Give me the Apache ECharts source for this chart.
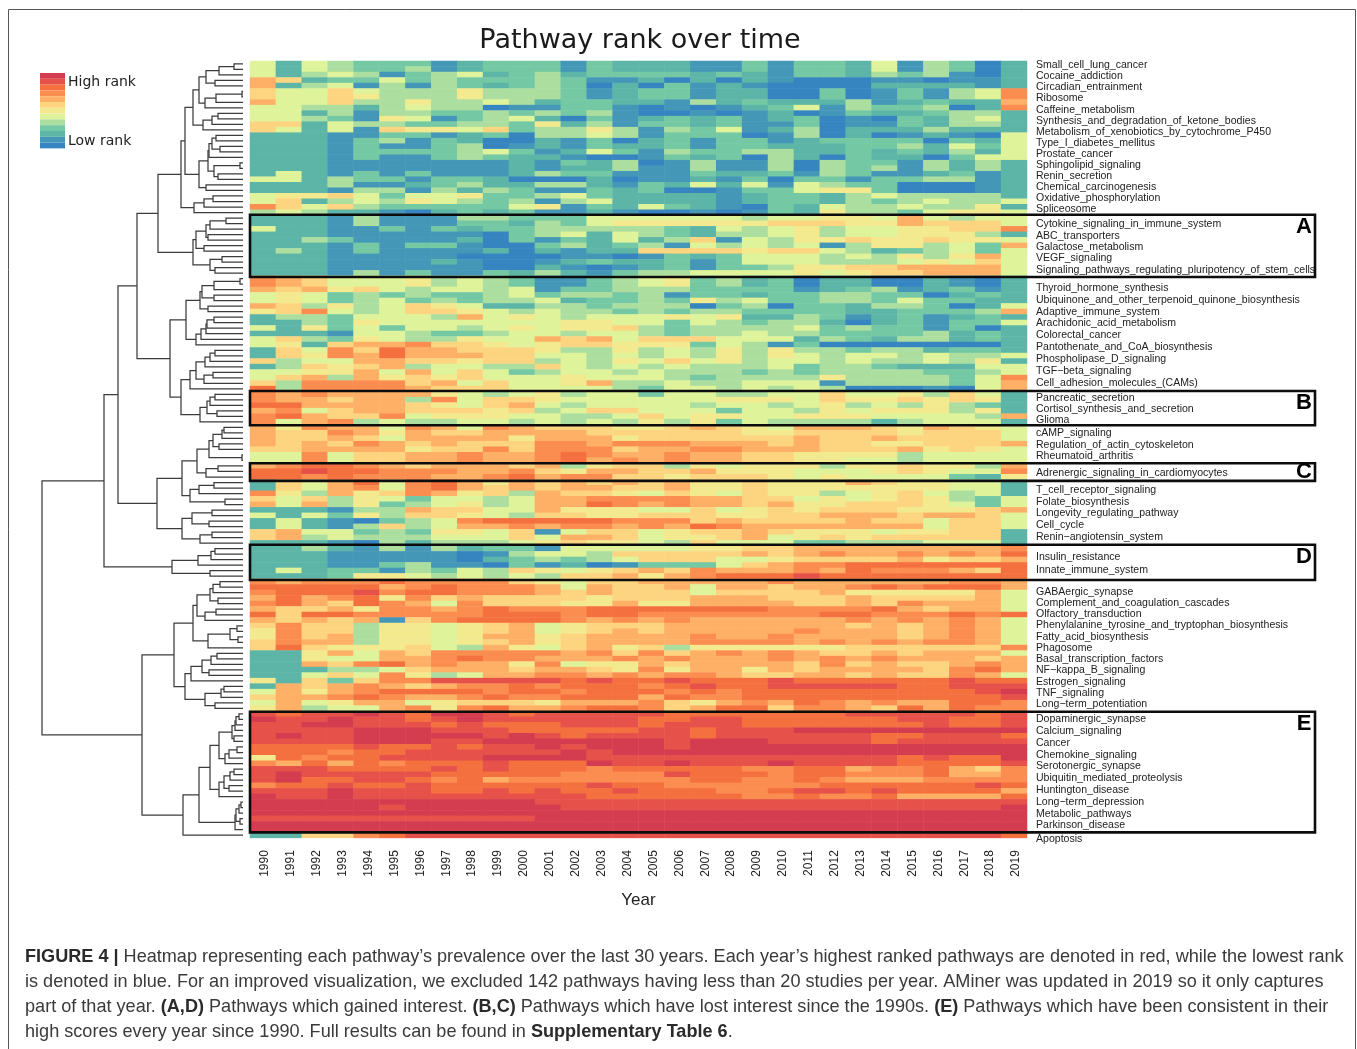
<!DOCTYPE html>
<html><head><meta charset="utf-8">
<style>html,body{margin:0;padding:0;background:#fff}#c{width:1357px;height:1049px}</style>
<script src="https://cdn.jsdelivr.net/npm/echarts@6/dist/echarts.min.js"></script>
</head><body><div id="c"></div>
<script>
const years=['1990','1991','1992','1993','1994','1995','1996','1997','1998','1999','2000','2001','2002','2003','2004','2005','2006','2007','2008','2009','2010','2011','2012','2013','2014','2015','2016','2017','2018','2019'];
const pathwayLabels=['Small_cell_lung_cancer','Cocaine_addiction','Circadian_entrainment','Ribosome','Caffeine_metabolism','Synthesis_and_degradation_of_ketone_bodies','Metabolism_of_xenobiotics_by_cytochrome_P450','Type_I_diabetes_mellitus','Prostate_cancer','Sphingolipid_signaling','Renin_secretion','Chemical_carcinogenesis','Oxidative_phosphorylation','Spliceosome','Cytokine_signaling_in_immune_system','ABC_transporters','Galactose_metabolism','VEGF_signaling','Signaling_pathways_regulating_pluripotency_of_stem_cells','Thyroid_hormone_synthesis','Ubiquinone_and_other_terpenoid_quinone_biosynthesis','Adaptive_immune_system','Arachidonic_acid_metabolism','Colorectal_cancer','Pantothenate_and_CoA_biosynthesis','Phospholipase_D_signaling','TGF\u2212beta_signaling','Cell_adhesion_molecules_(CAMs)','Pancreatic_secretion','Cortisol_synthesis_and_secretion','Glioma','cAMP_signaling','Regulation_of_actin_cytoskeleton','Rheumatoid_arthritis','Adrenergic_signaling_in_cardiomyocytes','T_cell_receptor_signaling','Folate_biosynthesis','Longevity_regulating_pathway','Cell_cycle','Renin\u2212angiotensin_system','Insulin_resistance','Innate_immune_system','GABAergic_synapse','Complement_and_coagulation_cascades','Olfactory_transduction','Phenylalanine_tyrosine_and_tryptophan_biosynthesis','Fatty_acid_biosynthesis','Phagosome','Basal_transcription_factors','NF\u2212kappa_B_signaling','Estrogen_signaling','TNF_signaling','Long\u2212term_potentiation','Dopaminergic_synapse','Calcium_signaling','Cancer','Chemokine_signaling','Serotonergic_synapse','Ubiquitin_mediated_proteolysis','Huntington_disease','Long\u2212term_depression','Metabolic_pathways','Parkinson_disease','Apoptosis'];
const labelRows=[0.6,2.6,4.6,6.6,8.6,10.6,12.6,14.6,16.6,18.6,20.6,22.6,24.6,26.6,29.3,31.5,33.5,35.6,37.7,41.0,43.1,45.3,47.4,49.6,51.7,53.8,56.0,58.2,61.0,63.0,65.0,67.3,69.4,71.4,74.5,77.7,79.8,81.9,84.0,86.1,89.8,92.2,96.2,98.2,100.2,102.2,104.3,106.3,108.3,110.4,112.5,114.5,116.5,119.3,121.4,123.6,125.7,127.8,130.0,132.1,134.2,136.4,138.5,141];
const levelColors=['#3684c0','#4597b8','#5cb5a7','#74c8a4','#acdea0','#dff39a','#f3e98e','#fdd580','#fdb066','#fb8d50','#f5703f','#e6524a','#d43d50'];
// one string per pathway row, one hex rank level per year (0 = low rank, c = high rank)
const rankRows=[
'52543 33123 33132 22113 13325 14302','52543 34123 33132 22113 13325 14302','52454 13452 34233 33232 13324 34102','87233 53433 34311 20202 10001 10112',
'82451 41432 34302 03121 00002 22212','75575 44464 44312 33122 00301 31459','75576 44464 44312 33122 00301 31459','85574 46445 42332 21423 22241 23228',
'55442 45440 11331 01012 35143 34029','55241 44334 34341 00101 20132 23442','55431 65134 52031 23231 23010 32452','77254 43344 36241 33231 13011 32442',
'75251 76657 34464 14351 24022 24222','22211 33123 04454 13330 14020 12105','22213 41320 02130 23133 12333 30325','22213 11340 12132 23133 22233 42535',
'22213 33345 31253 14334 42232 32425','22213 11343 22100 13230 42032 20355','22211 11111 21324 01411 40433 14242','22211 11111 21224 11411 40434 14242',
'25213 13111 24331 11322 31431 12312','55243 31332 00020 11213 03313 34412','22241 12342 24421 32525 15433 00012','22214 41424 31132 30013 35663 00012',
'56675 35563 34532 22212 33245 44442','57245 46543 41452 22212 33243 45445','97574 33333 56132 53210 32544 54462','45422 10232 31121 00101 32644 35665',
'22214 11144 33355 55554 55665 85455','22214 11133 24356 66666 77766 87775','52211 31323 34444 43254 56455 66779','22211 11110 34525 43244 56455 66642',
'22431 11120 31325 24715 46676 67665','22213 13310 03423 41545 45146 64538','24213 11112 02122 77776 77542 34535','22211 11100 00110 13235 55454 64685',
'22211 11210 01232 23135 55444 56575','22211 11110 02101 23133 46677 88885','22214 13113 24213 44555 56567 78885','98755 56454 31134 56342 30220 02102',
'98755 56454 31134 56342 30220 02102','87867 54554 51334 44333 31234 12312','56534 34334 53443 41332 33443 30232','56534 53434 45233 43645 33443 53322',
'87464 57652 24434 44034 03324 43025','67954 57765 45443 43443 33322 33348','24435 55485 65455 56562 24312 31232','22436 55555 55665 53543 44202 31335',
'52635 35545 65667 43444 45343 31302','22215 54334 55455 43445 44333 34232','57436 54465 58785 77755 52432 44232','56278 89776 56776 66354 13000 00002',
'27597 a8877 76446 45464 64434 42332','27698 a8887 75545 45464 65455 45445','74558 87767 74546 57564 55454 45462','24767 84554 47545 45444 53443 22255',
'55668 58575 34554 54443 43444 43345','57848 67675 55655 54344 44644 44359','74999 97857 55684 45445 55144 44358','a4999 98777 55554 35545 45400 01058',
'98988 88654 56455 35544 55755 64752','98878 84957 76555 55566 65766 76762','aa888 87657 85455 55455 45645 46432','89578 87776 74577 55535 54656 66462',
'9a877 95666 55445 75665 56665 55548','95894 54455 45454 64635 44442 45552','86988 59859 87776 67876 58887 68765','87798 68778 88877 77776 67777 67775',
'87787 58888 68886 77777 78778 77775','87879 87877 79989 99888 78776 67778','77888 86779 79997 88998 88777 86765','55957 78898 89a98 89887 76666 45555',
'55957 78898 89a89 89887 76655 45555','89aa9 87888 78467 74656 66466 76648','aabaa 99988 97688 77866 65556 76559','aa9a9 99889 a8997 76777 65655 55326',
'2758a 59a86 87878 78667 66687 66552','27589 59a87 87887 78667 66666 66552','96486 79867 48776 57657 66456 75452','75746 53554 58899 99887 75656 76435',
'85846 34564 588a9 89887 86677 76535','22214 48775 58666 55756 76777 66678','52536 47765 47766 77766 77888 78875','25210 3459a aaaa9 99787 77787 75775',
'25214 74588 98998 98a98 88888 85775','78553 43665 71577 56778 76665 66772','78454 44555 75887 56678 56767 77772','22210 42444 56766 54755 53344 45552',
'22421 41423 31555 55667 78888 88889','22211 11101 45547 77778 78988 9898a','22211 11102 34345 77755 67777 86778','22211 34110 31201 33357 899aa aaaaa',
'25233 14354 76567 87988 898a9 9987a','22236 65454 54778 689aa abaaa aaaaa','98999 a9999 76577 88888 98888 88998','aaaaa 89a99 98587 78588 7889a 9aaa8',
'9aaab 9aa99 98787 77577 77866 66685','8a89a 69787 77767 77888 77787 77785','9a87a 98597 77668 66888 87787 98885','87786 9989a 999aa aaaaa 9999a 87885',
'a7aa9 9999a aa9aa 99999 99aa9 99a9a','87878 179aa aa989 89888 88898 98985','79774 66567 85677 78888 88878 78985','69774 66567 85678 78888 89888 78985',
'69784 66568 86788 88988 98888 78985','79884 66567 86788 88999 98989 89985','7a766 67548 65786 74666 66677 77779','22685 87999 99897 97898 98778 78885',
'22655 889a9 98889 89888 98989 88878','22879 a8988 69566 87888 87978 77898','22244 57888 78876 96886 87888 879a8','22575 96458 89989 89987 78878 77985',
'62737 99bbb bbaba abaaa baaaa aabaa','28789 87899 a9aaa 9abaa bbbbb aabbb','58689 aaaa9 aa9aa a9a9a aaaaa aaabc','7889a 9889a 99aaa 8a99a aaaaa aaaab',
'58568 85677 76888 97689 8a989 88aa9','68455 8969a 889aa 978aa 79987 a8a99','babbc baccb abbbb baaaa aaabb bbbab','cbbcb babcb bbbbb aabba aaaaa bbaab',
'bbccb bbaba aabbb abbba aaaaa abaab','bbbbc ccbbb aaaaa bbabb bcccc ccccc','bcbbc ccccb cbabb bbabb bbbba abbba','bbbbc ccbbc ccccc cbccc bbbba bbbbb',
'aaaab aabab bcbcc cbccc ccccc ccccc','aaa9a abbbb bbcbc ccccc ccccc ccccc','6a9aa bbbbc cccbb bbbbb bbbbb abaac','98a8a 9aaab aaacb bcbbb cbbbb aaaab',
'bbbaa aabab aaa9a aaaa9 9aa89 9a879','bcbbb bbaaa aa999 9baaa 9aa99 9a889','bcaab ba9a8 99999 99aa9 9a988 89999','9aaba abaaa aaaba a9999 99aaa aaaba',
'bbbcb bbaab abaab aaa99 abbab aaaa8','cbbcb bbbbb bbbaa aaaa9 9a99a 8888a','ccccc ccccc cbbbb bbbbb bbbbb bbbbb','ccccc bcccc ccbbb bbbbb bbbbb bbbbc',
'ccccc ccccc ccccc ccccc ccccc ccccc','bbbbb bbbbb bcccc ccccc ccccc ccccc','ccccc ccccc ccccc ccccc ccccc ccccc','ccccc ccccc ccccc ccccc ccccc ccccc',
'22779 abbbb bbbbb bbbbb bbbbb bbbba'];
// dendrogram: [height, upper child, lower child]; 0 is a leaf (next heatmap row)
const dendrogram=[201,
 [139,
  [125,
   [106,
    [85,
     [62,
      [58,
       [50,
        [44,[37,[24,[9,0,0],0],[28,0,0]],[38,[27,[1,0,0],0],0]],
        [40,[31,[25,0,0],0],0]],
       [44,[35,[34,[31,[27,0,0],[23,0,0]],0],[29,[3,0,0],[25,0,0]]],[37,0,0]]],
      [49,[39,[30,0,0],0],0]],
     [50,[47,[37,[33,[17,0,0],0],[35,0,0]],[39,0,0]],[33,[21,0,0],[28,0,0]]]],
    [73,
     [57,
      [43,[41,[29,[3,0,0],0],[29,0,0]],[35,0,0]],
      [47,[42,[37,[36,[29,0,0],0],0],0],0]],
     [62,
      [53,[47,[38,[33,[28,0,0],0],0],[39,[30,0,0],0]],0],
      [43,[36,[33,[28,0,0],0],[26,0,0]],0]]]],
   [86,
    [61,
     [46,[34,[30,[21,[19,0,0],0],[24,0,0]],[1,0,0]],[37,[25,0,0],0]],
     [53,[44,[29,0,0],0],[18,0,0]]],
    [61,[51,[31,0,0],[34,0,0]],[43,[31,0,0],0]]]],
  [71,[45,[32,[28,0,0],0],0],[33,0,0]]],
 [101,
  [69,
   [50,
    [46,[33,[30,[23,0,0],0],[25,0,0]],[38,[27,0,0],0]],
    [35,[13,[6,0,0],[5,0,0]],0]],
   [58,
    [52,[41,[32,[26,0,0],0],[34,0,0]],0],
    [38,[22,[19,0,0],0],[28,0,0]]]],
  [60,
   [44,
    [33,
     [24,[11,[8,[7,[4,0,0],0],0],[9,0,0]],[18,[14,[6,0,0],0],0]],
     [24,[19,[13,[9,0,0],0],[14,0,0]],0]],
    [8,[7,[4,[2,0,0],0],[3,0,0]],0]],
   0]]];
const boxStarts=[27.9,59.9,73,87.8,118.1];
const boxEnds=[39.2,66.1,76.2,94.2,140];
const boxNames=['A','B','C','D','E'];
const captionLines=[
'{b|FIGURE 4 |} Heatmap representing each pathway\u2019s prevalence over the last 30 years. Each year\u2019s highest ranked pathways are denoted in red, while the lowest rank',
'is denoted in blue. For an improved visualization, we excluded 142 pathways having less than 20 studies per year. AMiner was updated in 2019 so it only captures',
'part of that year. {b|(A,D)} Pathways which gained interest. {b|(B,C)} Pathways which have lost interest since the 1990s. {b|(E)} Pathways which have been consistent in their',
'high scores every year since 1990. Full results can be found in {b|Supplementary Table 6}.'];

const nRows=rankRows.length;
const heat=[];
rankRows.forEach((row,r)=>{row.replace(/\s/g,'').split('').forEach((ch,c)=>heat.push([c,r,parseInt(ch,16)]));});

const segs=[];let leaf=0;
function walk(n){ // returns [height, rowPosition]
  if(n===0){const y=leaf+0.5;leaf++;return [0,y];}
  const a=walk(n[1]),b=walk(n[2]);
  segs.push([n[0],a[1],b[1],a[0],b[0]]);
  return [n[0],(a[1]+b[1])/2];
}
walk(dendrogram);

const gridTop=61,rowPx=5.51,gridH=nRows*rowPx;
const chart=echarts.init(document.getElementById('c'),null,{renderer:'canvas'});
const SANS='"Liberation Sans",Arial,sans-serif',DJ='"DejaVu Sans",sans-serif';
chart.setOption({
 animation:false,backgroundColor:'#fff',
 title:{text:'Pathway rank over time',left:635,top:22,textAlign:'center',textStyle:{fontFamily:DJ,fontSize:27,fontWeight:'normal',color:'#1a1a1a'}},
 grid:[{left:250,top:gridTop,width:777,height:gridH},{left:42,top:gridTop,width:201,height:gridH},{left:250,top:gridTop,width:1065,height:gridH},
  {left:252,top:gridTop+1.2,width:777,height:gridH}],
 xAxis:[
  {type:'category',gridIndex:0,data:years,show:false},
  {type:'value',gridIndex:1,min:0,max:201,inverse:true,show:false},
  {type:'value',gridIndex:2,min:0,max:1,show:false},
  {type:'category',gridIndex:3,data:years,position:'bottom',axisLine:{show:false},axisTick:{show:false},splitLine:{show:false},
   axisLabel:{rotate:90,interval:0,margin:11,fontFamily:SANS,fontSize:12,color:'#222'},
   name:'Year',nameLocation:'middle',nameGap:53,nameTextStyle:{fontFamily:SANS,fontSize:17,color:'#222',padding:[0,4,0,0]}}],
 yAxis:[
  {type:'category',gridIndex:0,inverse:true,data:rankRows.map((_,i)=>String(i)),show:false},
  {type:'value',gridIndex:3,position:'right',inverse:true,min:0,max:nRows,offset:-2,axisLine:{show:false},axisTick:{show:false},splitLine:{show:false},
   axisLabel:{customValues:labelRows,margin:9,fontFamily:SANS,fontSize:10.55,color:'#222',formatter:v=>pathwayLabels[labelRows.indexOf(v)]||''}},
  {type:'value',gridIndex:1,inverse:true,min:0,max:nRows,show:false},
  {type:'value',gridIndex:2,inverse:true,min:0,max:nRows,show:false}],
 visualMap:{type:'piecewise',seriesIndex:0,orient:'vertical',left:25,top:58,itemWidth:25,itemHeight:5.8,itemGap:0,itemSymbol:'rect',showLabel:false,selectedMode:false,hoverLink:false,
  pieces:levelColors.map((color,i)=>({value:i,color:color})).reverse()},
 series:[
  {type:'heatmap',xAxisIndex:0,yAxisIndex:0,data:heat,progressive:0,itemStyle:{borderWidth:0},emphasis:{disabled:true}},
  {type:'custom',xAxisIndex:1,yAxisIndex:2,data:segs,clip:false,silent:true,encode:{x:0,y:1},
   renderItem:(p,api)=>{
    const h=api.value(0),y1=api.value(1),y2=api.value(2),h1=api.value(3),h2=api.value(4);
    const pts=[api.coord([h1,y1]),api.coord([h,y1]),api.coord([h,y2]),api.coord([h2,y2])];
    return {type:'polyline',shape:{points:pts},style:{stroke:'#3c3c3c',lineWidth:1.25,fill:null}};
   }},
  {type:'custom',xAxisIndex:2,yAxisIndex:3,data:boxStarts.map((s,i)=>[0,s,1,boxEnds[i]]),clip:false,silent:true,encode:{x:0,y:1},
   z:10,renderItem:(p,api)=>{
    const a=api.coord([0,api.value(1)]),b=api.coord([1,api.value(3)]);
    return {type:'group',children:[
     {type:'rect',shape:{x:a[0],y:a[1],width:b[0]-a[0],height:b[1]-a[1]},style:{stroke:'#0c0c0c',lineWidth:2.6,fill:null}},
     {type:'text',style:{x:b[0]-11,y:a[1]+Math.min(12,(b[1]-a[1])/2),text:boxNames[p.dataIndex],align:'center',verticalAlign:'middle',fontFamily:SANS,fontWeight:'bold',fontSize:22,fill:'#000'}}
    ]};
   }}],
 graphic:[
  {type:'rect',silent:true,shape:{x:8.5,y:9.5,width:1347,height:1080},style:{stroke:'#555',lineWidth:1,fill:null}},
  {type:'text',style:{x:68,y:82,text:'High rank',fontFamily:DJ,fontSize:14,fill:'#222',verticalAlign:'middle'}},
  {type:'text',style:{x:68,y:141.5,text:'Low rank',fontFamily:DJ,fontSize:14,fill:'#222',verticalAlign:'middle'}}
 ].concat(captionLines.map((t,i)=>({type:'text',style:{x:25,y:957+25*i,text:t,verticalAlign:'middle',fontFamily:SANS,fontSize:18.1,fill:'#3a3a3a',
   rich:{b:{fontFamily:SANS,fontSize:18.1,fontWeight:'bold',fill:'#2a2a2a',verticalAlign:'middle'}}}})))
});
</script></body></html>
